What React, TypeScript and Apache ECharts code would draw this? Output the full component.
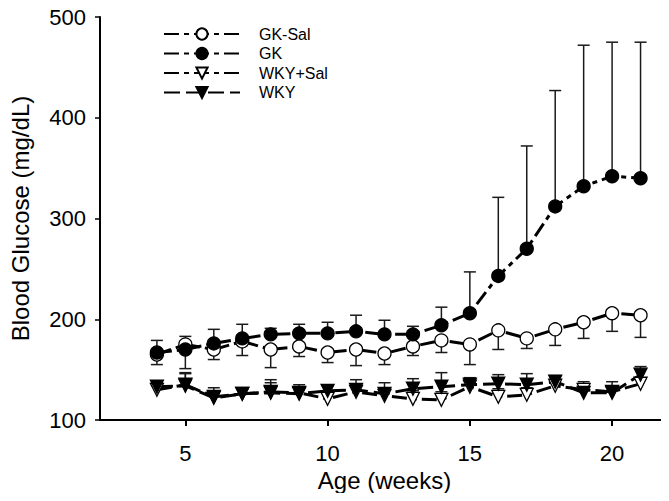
import React, { useEffect, useRef } from "react";
import * as echarts from "echarts";

const weeks = [4, 5, 6, 7, 8, 9, 10, 11, 12, 13, 14, 15, 16, 17, 18, 19, 20, 21];
const gkSalMean = [165, 175, 170, 178, 170, 173, 167, 170, 166, 173, 179, 175, 189, 181, 190, 197, 206, 204];
const gkSalSE = [10, 24, 10, 14, 18, 10, 10, 16, 11, 9, 12, 20, 19, 10, 16, 16, 18, 22];
const gkMean = [167, 170, 176, 181, 185, 186, 186, 188, 185, 185, 194, 206, 243, 270, 312, 332, 342, 340];
const gkSE = [12, 13, 14, 14, 6, 9, 11, 16, 14, 8, 18, 41, 78, 102, 115, 140, 133, 135];
const wkySalMean = [130, 135, 123, 126, 128, 127, 121, 128, 124, 121, 120, 133, 123, 125, 134, 130, 128, 136];
const wkySalSE = [4, 11, 5, 5, 9, 5, 6, 6, 6, 8, 8, 5, 8, 7, 5, 5, 6, 5];
const wkyMean = [133, 134, 122, 126, 127, 126, 129, 130, 126, 131, 133, 135, 136, 135, 138, 127, 127, 145];
const wkySE = [4, 13, 10, 5, 13, 9, 5, 10, 11, 10, 14, 7, 9, 11, 6, 11, 11, 8];
const xTicks = [5, 10, 15, 20];
const seriesNames = ["GK-Sal", "GK", "WKY+Sal", "WKY"];

const FONT = "Liberation Sans, Arial, sans-serif";

function errSeries(name: string, means: number[], ses: number[], dir: number) {
  return {
    type: "custom",
    name,
    silent: true,
    z: 1,
    data: weeks.map((w, i) => [w, means[i], means[i] + dir * ses[i]]),
    encode: { x: 0, y: [1, 2] },
    renderItem: (params: any, api: any) => {
      const x = api.value(0);
      const p0 = api.coord([x, api.value(1)]);
      const p1 = api.coord([x, api.value(2)]);
      const hw = 6;
      const st = { stroke: "#1a1a1a", lineWidth: 1.5 };
      return {
        type: "group",
        children: [
          { type: "line", shape: { x1: p0[0], y1: p0[1], x2: p1[0], y2: p1[1] }, style: st },
          { type: "line", shape: { x1: p1[0] - hw, y1: p1[1], x2: p1[0] + hw, y2: p1[1] }, style: st },
        ],
      };
    },
  };
}

function lineSeries(name: string, means: number[], symbol: string, fill: string, dash: number[], rotate: number) {
  return {
    type: "line",
    name,
    z: 3,
    data: weeks.map((w, i) => [w, means[i]]),
    symbol,
    symbolSize: 13,
    symbolRotate: rotate,
    showAllSymbol: true,
    lineStyle: { color: "#000", width: 3, type: dash },
    itemStyle: { color: fill, borderColor: "#000", borderWidth: 1.3 },
  };
}

export default function App() {
  const ref = useRef<HTMLDivElement>(null);
  useEffect(() => {
    if (!ref.current) return;
    const chart = echarts.init(ref.current, null, { renderer: "svg" });
    chart.setOption({
      animation: false,
      backgroundColor: "#fff",
      textStyle: { fontFamily: FONT },
      grid: { left: 99, right: -2, top: 17, bottom: 81, containLabel: false },
      legend: {
        data: seriesNames,
        orient: "vertical",
        left: 158,
        top: 21,
        itemWidth: 76,
        itemHeight: 14,
        itemGap: 3.5,
        textStyle: { fontSize: 16, color: "#000", fontFamily: FONT, padding: [0, 0, 0, 14] },
      },
      xAxis: {
        type: "value",
        min: 2,
        max: 22,
        name: "Age (weeks)",
        nameLocation: "middle",
        nameGap: 46,
        nameTextStyle: { fontSize: 24, color: "#000", fontFamily: FONT },
        splitLine: { show: false },
        axisLine: { show: true, lineStyle: { color: "#000", width: 2 } },
        axisTick: { show: true, customValues: xTicks, length: 6, lineStyle: { color: "#000", width: 2 } },
        axisLabel: { customValues: xTicks, fontSize: 22, color: "#000", margin: 22, fontFamily: FONT },
      },
      yAxis: {
        type: "value",
        min: 100,
        max: 500,
        interval: 100,
        name: "Blood Glucose (mg/dL)",
        nameLocation: "middle",
        nameGap: 68,
        nameTextStyle: { fontSize: 24, color: "#000", fontFamily: FONT },
        splitLine: { show: false },
        axisLine: { show: true, lineStyle: { color: "#000", width: 2 } },
        axisTick: { show: true, length: 5, lineStyle: { color: "#000", width: 1.5 } },
        axisLabel: { fontSize: 22, color: "#000", margin: 14, fontFamily: FONT },
      },
      series: [
        errSeries("GK-Sal err", gkSalMean, gkSalSE, -1),
        errSeries("GK err", gkMean, gkSE, 1),
        errSeries("WKY+Sal err", wkySalMean, wkySalSE, 1),
        errSeries("WKY err", wkyMean, wkySE, 1),
        lineSeries("GK-Sal", gkSalMean, "circle", "#fff", [15, 5, 5, 5], 0),
        lineSeries("GK", gkMean, "circle", "#000", [15, 5, 5, 5], 0),
        lineSeries("WKY+Sal", wkySalMean, "triangle", "#fff", [15, 5, 5, 5], 180),
        lineSeries("WKY", wkyMean, "triangle", "#000", [16, 6], 180),
      ],
    });
    return () => chart.dispose();
  }, []);
  return <div ref={ref} style={{ width: 669, height: 501, margin: -8 }} />;
}
